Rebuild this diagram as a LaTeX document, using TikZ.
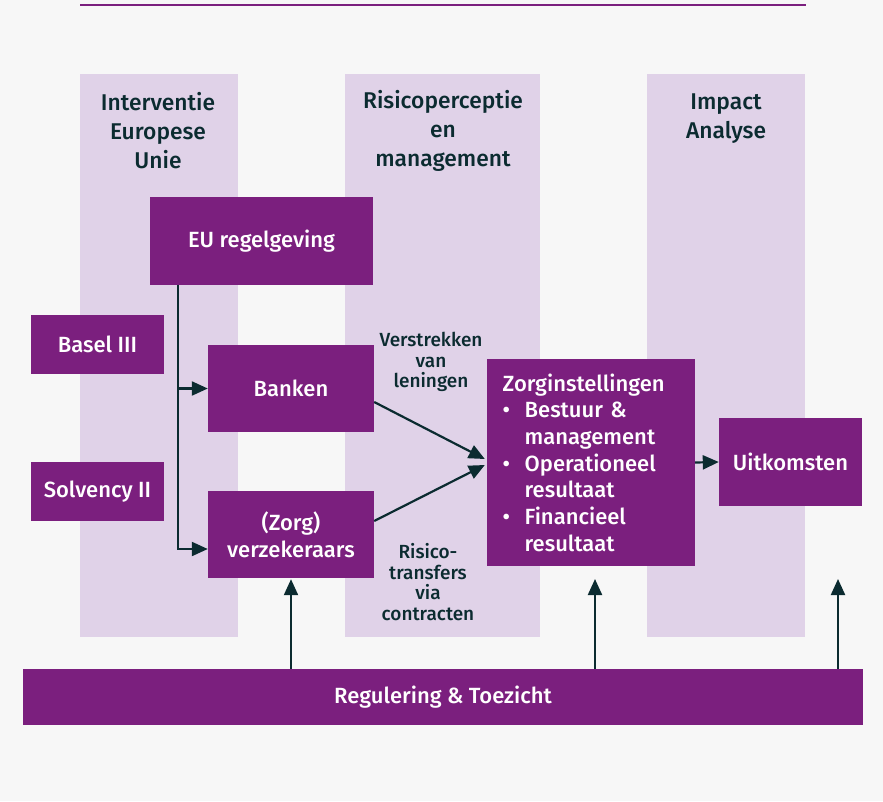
\documentclass[tikz,border=0pt]{standalone}
\usepackage{fontspec}
\setmainfont{Fira Sans Medium}
\usetikzlibrary{arrows.meta}
\definecolor{purp}{HTML}{7B1F7E}
\definecolor{lav}{HTML}{E0D2E8}
\definecolor{bgc}{HTML}{F7F7F7}
\definecolor{dark}{HTML}{0B2B30}
\newcommand\boxfnt{\fontsize{22}{26.7}\selectfont}
\newcommand\headfnt{\fontsize{22.8}{29}\selectfont}
\newcommand\lblfnt{\fontsize{19}{20.7}\selectfont}
\newcommand\bul{\makebox[22pt][l]{\textbullet}}
\newcommand\ind{\hspace*{22pt}}
\tikzset{
  colbg/.style={fill=lav},
  pbox/.style={fill=purp, text=white, inner sep=0pt, align=center, font=\boxfnt},
  head/.style={text=dark, align=center, font=\headfnt, inner sep=0pt},
  lbl/.style={text=dark, align=center, font=\lblfnt, inner sep=0pt},
  conn/.style={draw=dark, line width=2.2pt, -{Triangle[length=16pt,width=14pt]}},
  plain/.style={draw=dark, line width=2.2pt}
}
\begin{document}
\begin{tikzpicture}[x=1pt,y=-1pt]
\fill[bgc] (0,0) rectangle (883,801);
\useasboundingbox (0,0) rectangle (883,801);
\draw[purp, line width=2pt] (80,5) -- (806,5);
% columns
\fill[colbg] (80,74) rectangle (238,637);
\fill[colbg] (345,74) rectangle (540,637);
\fill[colbg] (647,74) rectangle (805,637);
% headings
\node[head] (h1) at (158,131) {Interventie\\Europese\\Unie};
\node[head] (h2) at (443,131) {Risicoperceptie\\en\\management};
\node[head] (h3) at (726,119) {Impact\\Analyse};
% boxes
\node[pbox, minimum width=223pt, minimum height=88pt] (eu) at (261.5,241) {EU regelgeving};
\node[pbox, minimum width=133pt, minimum height=59pt] (basel) at (97.5,344.5) {Basel III};
\node[pbox, minimum width=133pt, minimum height=59pt] (solv) at (97.5,491.5) {Solvency II};
\node[pbox, minimum width=166pt, minimum height=87pt] (banken) at (291,388.5) {Banken};
\node[pbox, minimum width=166pt, minimum height=87pt] (verz) at (291,534.5) {(Zorg)\\verzekeraars};
\node[pbox, align=left, inner xsep=15.7pt, text width=176.6pt, minimum height=207pt] (zorg) at (591,462.5)
  {Zorginstellingen\\\bul Bestuur \&\\\ind management\\\bul Operationeel\\\ind resultaat\\\bul Financieel\\\ind resultaat};
\node[pbox, minimum width=143pt, minimum height=88pt] (uitk) at (790.5,462) {Uitkomsten};
\node[pbox, minimum width=840pt, minimum height=56pt] (reg) at (443,697) {Regulering \& Toezicht};
% labels
\node[lbl] (l1) at (431,362) {Verstrekken\\van\\leningen};
\node[lbl] (l2) at (428,582) {Risico-\\transfers\\via\\contracten};
% connectors
\path (eu.south west) ++(28,0) coordinate (t);
\draw[conn] (t) |- ([yshift=-14.5pt]verz.west);
\draw[conn] (t |- banken.west) -- (banken.west);
\draw[conn] ([yshift=-13.5pt]banken.east) -- ([xshift=-2pt,yshift=3.5pt]zorg.west);
\draw[conn] ([yshift=13.5pt]verz.east) -- ([xshift=-2pt,yshift=-2.5pt]zorg.west);
\draw[conn] (zorg.east) -- (uitk.west);
\coordinate (z) at (595,579);
\coordinate (u) at (838,579);
\draw[conn] (verz.south |- reg.north) -- ([yshift=-1pt]verz.south);
\draw[conn] (z |- reg.north) -- (z);
\draw[conn] (u |- reg.north) -- (u);
\end{tikzpicture}
\end{document}
